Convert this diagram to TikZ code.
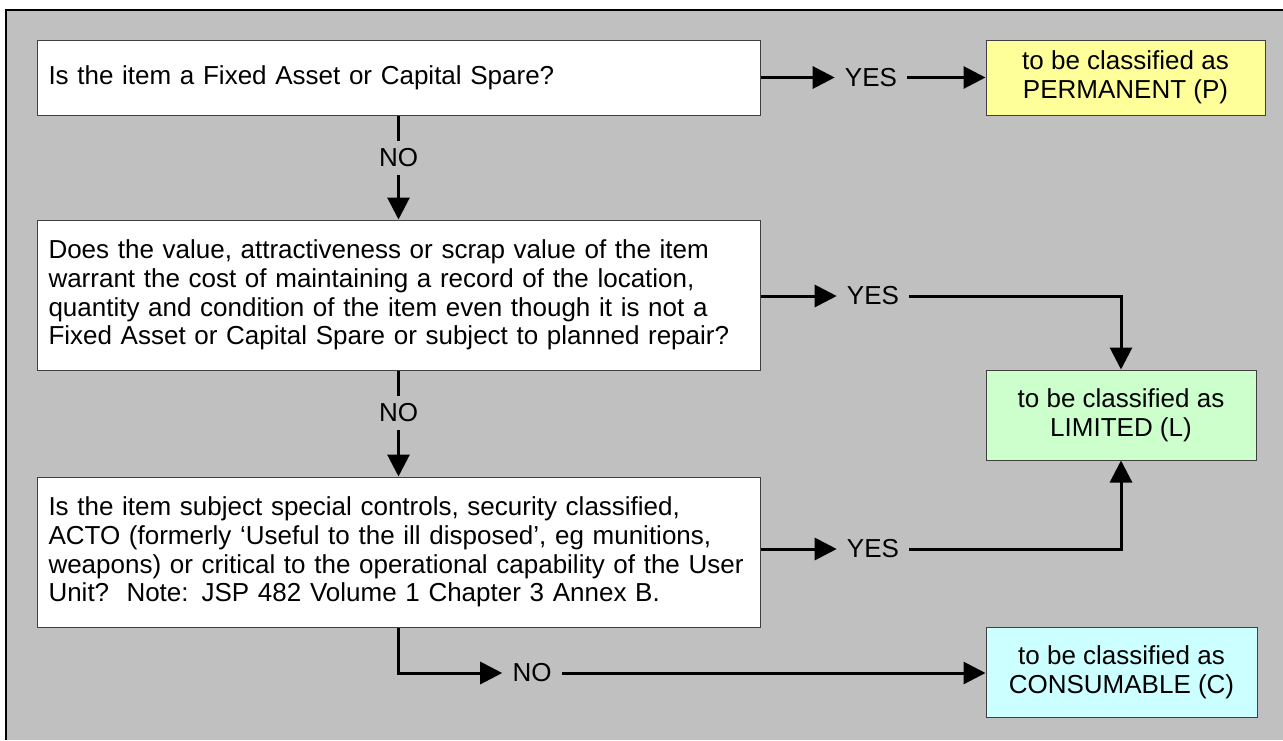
\documentclass[tikz,border=0pt]{standalone}
\usepackage{fontspec}
\setmainfont{Liberation Sans}
\usetikzlibrary{arrows.meta}
\definecolor{panel}{HTML}{C0C0C0}
\definecolor{yel}{HTML}{FFFF99}
\definecolor{grn}{HTML}{CCFFCC}
\definecolor{cyn}{HTML}{CCFFFF}
\begin{document}
\begin{tikzpicture}[x=0.75pt,y=-0.75pt,
  every node/.style={font=\fontsize{19.5pt}{21.6pt}\selectfont},
  qbox/.style={draw=black!75,line width=0.75pt,fill=white,minimum width=542.25pt,
    text width=525pt,inner xsep=8.6pt,inner ysep=0pt,align=left},
  rbox/.style={draw=black!75,line width=0.75pt,align=center,inner sep=0pt},
  lab/.style={inner xsep=7.5pt,inner ysep=5.5pt},
  ln/.style={line width=2.25pt},
  arr/.style={line width=2.25pt,-{Triangle[length=16.5pt,width=16.5pt]}}]
\useasboundingbox (0,0) rectangle (1283,740);
\fill[panel] (6,10) rectangle (1283,740);
\draw[line width=1.1pt] (6,740) -- (6,10) -- (1283,10);

\node[qbox,minimum height=56.25pt] (q1) at (398.5,77.5) {Is the item a Fixed Asset or Capital Spare?};
\node[qbox,minimum height=112.5pt] (q2) at (398.5,295) {Does the value, attractiveness or scrap value of the item\\ warrant the cost of maintaining a record of the location,\\ quantity and condition of the item even though it is not a\\ Fixed Asset or Capital Spare or subject to planned repair?};
\node[qbox,minimum height=112.5pt] (q3) at (398.5,552) {Is the item subject special controls, security classified,\\ ACTO (formerly ‘Useful to the ill disposed’, eg munitions,\\ weapons) or critical to the operational capability of the User\\ Unit?\ \ Note: JSP 482 Volume 1 Chapter 3 Annex B.};

\node[rbox,fill=yel,minimum width=209.25pt,minimum height=56.25pt] (P) at (1125.5,77.5) {to be classified as\\ PERMANENT (P)};
\node[rbox,fill=grn,minimum width=202.5pt,minimum height=67.5pt] (L) at (1121,415) {to be classified as\\ LIMITED (L)};
\node[rbox,fill=cyn,minimum width=203.25pt,minimum height=67.5pt] (C) at (1121.5,672) {to be classified as\\ CONSUMABLE (C)};

\node[lab] (yes1) at (871,77.5) {YES};
\node[lab] (yes2) at (873,296) {YES};
\node[lab] (yes3) at (873,549) {YES};
\node[lab] (no1) at (398.5,158) {NO};
\node[lab] (no2) at (398.5,413) {NO};
\node[lab] (no3) at (532,673) {NO};

\draw[ln] (q1.south) -- (no1.north);
\draw[arr] (no1.south) -- (q2.north);
\draw[ln] (q2.south) -- (no2.north);
\draw[arr] (no2.south) -- (q3.north);
\draw[arr] (q1.east) -- (yes1.west);
\draw[arr] (yes1.east) -- (P.west);
\draw[arr] (q2.east |- yes2.west) -- (yes2.west);
\draw[arr] (yes2.east) -| (L.north);
\draw[arr] (q3.east |- yes3.west) -- (yes3.west);
\draw[arr] (yes3.east) -| (L.south);
\draw[arr] (q3.south) |- (no3.west);
\draw[arr] (no3.east) -- (no3.east -| C.west);
\end{tikzpicture}
\end{document}
